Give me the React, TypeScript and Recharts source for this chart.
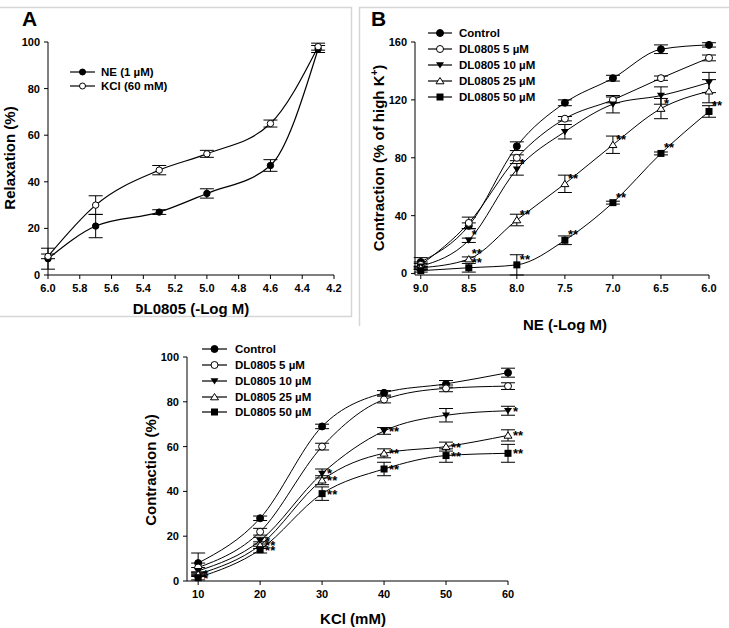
import React from "react";
import { LineChart, Line, XAxis, YAxis, ErrorBar, LabelList } from "recharts";

// Panel A
const aX = [6.0, 5.7, 5.3, 5.0, 4.6, 4.3];
const aNE = [7, 21, 27, 35, 47, 97];
const aNEErr = [4.5, 5, 1, 2, 2.5, 1.5];
const aKCl = [8, 30, 45, 52, 65, 98];
const aKClErr = [1, 4, 2, 1.5, 1.5, 1.5];
const aXTicks = [6.0, 5.8, 5.6, 5.4, 5.2, 5.0, 4.8, 4.6, 4.4, 4.2];
const aYTicks = [0, 20, 40, 60, 80, 100];

// Panel B
const bX = [9.0, 8.5, 8.0, 7.5, 7.0, 6.5, 6.0];
const bCtrl = [8, 33, 88, 118, 135, 155, 158];
const bCtrlErr = [3, 2, 3, 2, 2, 3, 1.5];
const b5 = [6, 35, 80, 107, 120, 135, 149];
const b5Err = [2, 4, 2, 1.5, 2, 1.5, 2];
const b10 = [5, 23, 72, 98, 117, 123, 132];
const b10Err = [2, 1.5, 4, 5, 6, 6, 7];
const b25 = [4, 10, 37, 62, 89, 114, 126];
const b25Err = [1, 1.5, 4, 6, 6, 7, 8];
const b50 = [2, 4, 6, 23, 49, 83, 112];
const b50Err = [1, 3, 7, 3, 1, 1, 4];
const b10Stars = ["", "*", "*", "", "", "", ""];
const b25Stars = ["", "**", "**", "**", "**", "*", ""];
const b50Stars = ["", "**", "**", "**", "**", "**", "**"];
const bXTicks = [9.0, 8.5, 8.0, 7.5, 7.0, 6.5, 6.0];
const bYTicks = [0, 40, 80, 120, 160];

// Panel C
const cX = [10, 20, 30, 40, 50, 60];
const cCtrl = [8, 28, 69, 84, 88, 93];
const cCtrlErr = [4.5, 1, 1, 1, 1.5, 2];
const c5 = [6, 22, 60, 81, 86, 87];
const c5Err = [2, 1.5, 1.5, 1.5, 1.5, 1.5];
const c10 = [4.5, 18, 48, 67, 74, 76];
const c10Err = [1.5, 1.5, 2, 1.5, 3, 2];
const c25 = [3, 16, 45, 57, 60, 65];
const c25Err = [1, 1.5, 2, 2, 2, 2.5];
const c50 = [1.5, 14, 39, 50, 56, 57];
const c50Err = [1, 1.5, 3, 3, 3, 4];
const c10Stars = ["", "*", "*", "**", "", "*"];
const c25Stars = ["*", "**", "**", "**", "**", "**"];
const c50Stars = ["*", "**", "**", "**", "**", "**"];
const cXTicks = [10, 20, 30, 40, 50, 60];
const cYTicks = [0, 20, 40, 60, 80, 100];

const seriesNames = ["Control", "DL0805 5 µM", "DL0805 10 µM", "DL0805 25 µM", "DL0805 50 µM"];
const shapes = ["circle", "openCircle", "down", "openUp", "square"];

const dataA = aX.map((x, i) => ({
  x,
  ne: aNE[i],
  neErr: aNEErr[i],
  kcl: aKCl[i],
  kclErr: aKClErr[i],
}));

const dataB = bX.map((x, i) => ({
  x,
  s0: bCtrl[i], e0: bCtrlErr[i],
  s1: b5[i], e1: b5Err[i],
  s2: b10[i], e2: b10Err[i],
  s3: b25[i], e3: b25Err[i],
  s4: b50[i], e4: b50Err[i],
  t2: b10Stars[i], t3: b25Stars[i], t4: b50Stars[i],
}));

const dataC = cX.map((x, i) => ({
  x,
  s0: cCtrl[i], e0: cCtrlErr[i],
  s1: c5[i], e1: c5Err[i],
  s2: c10[i], e2: c10Err[i],
  s3: c25[i], e3: c25Err[i],
  s4: c50[i], e4: c50Err[i],
  t2: c10Stars[i], t3: c25Stars[i], t4: c50Stars[i],
}));

const FONT = "'Liberation Sans', Arial, sans-serif";
const tickStyle = { fill: "#000", fontSize: 11, fontWeight: 700, fontFamily: FONT };
const axisLine = { stroke: "#000", strokeWidth: 1 };

function Marker({ shape, x, y, r = 3.5 }: { shape: string; x: number; y: number; r?: number }) {
  if (x == null || y == null) return null;
  switch (shape) {
    case "circle":
      return <circle cx={x} cy={y} r={r} fill="#000" stroke="#000" />;
    case "openCircle":
      return <circle cx={x} cy={y} r={r} fill="#fff" stroke="#000" strokeWidth={1} />;
    case "down":
      return (
        <polygon
          points={`${x - r - 0.5},${y - r * 0.8} ${x + r + 0.5},${y - r * 0.8} ${x},${y + r}`}
          fill="#000"
        />
      );
    case "openUp":
      return (
        <polygon
          points={`${x - r - 0.5},${y + r * 0.8} ${x + r + 0.5},${y + r * 0.8} ${x},${y - r}`}
          fill="#fff"
          stroke="#000"
          strokeWidth={1}
        />
      );
    default:
      return <rect x={x - r} y={y - r} width={r * 2} height={r * 2} fill="#000" />;
  }
}

const makeDot = (shape: string, r = 3.5) => (p: any) => (
  <g key={`d-${shape}-${p.index}`}>
    <Marker shape={shape} x={p.cx} y={p.cy} r={r} />
  </g>
);

const makeStars = (dx: number, dy: number) => (p: any) => {
  if (!p.value) return null;
  return (
    <text
      key={`s-${p.index}`}
      x={Number(p.x) + dx}
      y={Number(p.y) + dy}
      fontSize={13}
      fontWeight={700}
      fontFamily={FONT}
      fill="#000"
    >
      {p.value}
    </text>
  );
};

const Legend = ({
  names,
  kinds,
  x1,
  x2,
  tx,
  ys,
  r = 3.5,
}: {
  names: string[];
  kinds: string[];
  x1: number;
  x2: number;
  tx: number;
  ys: number[];
  r?: number;
}) => (
  <g>
    {names.map((n, i) => (
      <g key={n}>
        <line x1={x1} x2={x2} y1={ys[i]} y2={ys[i]} stroke="#000" strokeWidth={1.2} />
        <Marker shape={kinds[i]} x={(x1 + x2) / 2} y={ys[i]} r={r} />
        <text
          x={tx}
          y={ys[i]}
          dominantBaseline="central"
          fontSize={11.5}
          fontWeight={700}
          fontFamily={FONT}
          fill="#000"
        >
          {n}
        </text>
      </g>
    ))}
  </g>
);

const titleProps = { fontSize: 15, fontWeight: 700, fontFamily: FONT, fill: "#000", textAnchor: "middle" as const };

export default function App() {
  return (
    <div style={{ position: "absolute", left: 0, top: 0, width: 729, height: 628, background: "#fff", overflow: "hidden" }}>
      {/* Panel A */}
      <div style={{ position: "absolute", left: 0, top: 0 }}>
        <LineChart width={352} height={320} data={dataA} margin={{ top: 42, right: 18, bottom: 15, left: 8 }}>
          <XAxis
            dataKey="x"
            type="number"
            domain={[4.2, 6.0]}
            reversed
            ticks={aXTicks}
            tickFormatter={(v: number) => v.toFixed(1)}
            tick={tickStyle}
            axisLine={axisLine}
            tickLine={axisLine}
            tickSize={4}
            tickMargin={5}
            height={30}
            interval={0}
          />
          <YAxis
            type="number"
            domain={[0, 100]}
            ticks={aYTicks}
            tick={tickStyle}
            axisLine={axisLine}
            tickLine={axisLine}
            tickSize={4}
            tickMargin={4}
            width={40}
            interval={0}
          />
          <Line dataKey="ne" type="monotone" stroke="#000" strokeWidth={1.2} dot={makeDot("circle", 3.2)} isAnimationActive={false}>
            <ErrorBar dataKey="neErr" width={7} stroke="#000" strokeWidth={1} direction="y" />
          </Line>
          <Line dataKey="kcl" type="monotone" stroke="#000" strokeWidth={1.2} dot={makeDot("openCircle", 3.2)} isAnimationActive={false}>
            <ErrorBar dataKey="kclErr" width={7} stroke="#000" strokeWidth={1} direction="y" />
          </Line>
        </LineChart>
      </div>

      {/* Panel B */}
      <div style={{ position: "absolute", left: 360, top: 0 }}>
        <LineChart width={369} height={330} data={dataB} margin={{ top: 42, right: 20, bottom: 25, left: 15 }}>
          <XAxis
            dataKey="x"
            type="number"
            domain={[6.0, 9.06]}
            reversed
            ticks={bXTicks}
            tickFormatter={(v: number) => v.toFixed(1)}
            tick={tickStyle}
            axisLine={axisLine}
            tickLine={axisLine}
            tickSize={4}
            tickMargin={5}
            height={30}
            interval={0}
          />
          <YAxis
            type="number"
            domain={[0, 160]}
            ticks={bYTicks}
            tick={tickStyle}
            axisLine={axisLine}
            tickLine={axisLine}
            tickSize={4}
            tickMargin={4}
            width={40}
            interval={0}
          />
          {shapes.map((s, i) => (
            <Line
              key={s}
              dataKey={`s${i}`}
              type="monotone"
              stroke="#000"
              strokeWidth={1}
              dot={makeDot(s)}
              isAnimationActive={false}
            >
              <ErrorBar dataKey={`e${i}`} width={7} stroke="#000" strokeWidth={1} direction="y" />
              {i >= 2 && <LabelList dataKey={`t${i}`} content={makeStars(3, -1)} />}
            </Line>
          ))}
        </LineChart>
      </div>

      {/* Panel C */}
      <div style={{ position: "absolute", left: 130, top: 330 }}>
        <LineChart width={420} height={298} data={dataC} margin={{ top: 27, right: 42, bottom: 17, left: 17 }}>
          <XAxis
            dataKey="x"
            type="number"
            domain={[8.2, 60]}
            ticks={cXTicks}
            tick={tickStyle}
            axisLine={axisLine}
            tickLine={axisLine}
            tickSize={4}
            tickMargin={5}
            height={30}
            interval={0}
          />
          <YAxis
            type="number"
            domain={[0, 100]}
            ticks={cYTicks}
            tick={tickStyle}
            axisLine={axisLine}
            tickLine={axisLine}
            tickSize={4}
            tickMargin={4}
            width={40}
            interval={0}
          />
          {shapes.map((s, i) => (
            <Line
              key={s}
              dataKey={`s${i}`}
              type="monotone"
              stroke="#000"
              strokeWidth={1}
              dot={makeDot(s)}
              isAnimationActive={false}
            >
              <ErrorBar dataKey={`e${i}`} width={7} stroke="#000" strokeWidth={1} direction="y" />
              {i >= 2 && <LabelList dataKey={`t${i}`} content={makeStars(5, 5)} />}
            </Line>
          ))}
        </LineChart>
      </div>

      {/* Frames, panel letters, titles, legends */}
      <svg width={729} height={628} style={{ position: "absolute", left: 0, top: 0, pointerEvents: "none" }}>
        <polyline points="0,7.5 351.5,7.5 351.5,316.5 0,316.5" fill="none" stroke="#d6d6d6" strokeWidth={1.5} />
        <polyline points="729,7.5 359.5,7.5 359.5,326" fill="none" stroke="#d6d6d6" strokeWidth={1.5} />

        <text x={22} y={26} fontSize={21} fontWeight={700} fontFamily={FONT}>A</text>
        <text x={371} y={26} fontSize={21} fontWeight={700} fontFamily={FONT}>B</text>

        <text {...titleProps} x={191} y={314}>DL0805 (-Log M)</text>
        <text {...titleProps} transform="translate(15,158) rotate(-90)">Relaxation (%)</text>

        <text {...titleProps} x={565} y={330}>NE (-Log M)</text>
        <text {...titleProps} transform="translate(384,158) rotate(-90)">
          Contraction (% of high K<tspan dy={-6} fontSize={10}>+</tspan><tspan dy={6}>)</tspan>
        </text>

        <text {...titleProps} x={353} y={624}>KCl (mM)</text>
        <text {...titleProps} transform="translate(156,470) rotate(-90)">Contraction (%)</text>

        <Legend names={["NE (1 µM)", "KCl (60 mM)"]} kinds={["circle", "openCircle"]} x1={70} x2={95} tx={101} ys={[72, 86]} r={3} />
        <Legend names={seriesNames} kinds={shapes} x1={428} x2={452} tx={459} ys={[33, 49, 65, 81, 97]} />
        <Legend names={seriesNames} kinds={shapes} x1={202} x2={227} tx={235} ys={[349, 365, 381, 397, 412]} />
      </svg>
    </div>
  );
}
